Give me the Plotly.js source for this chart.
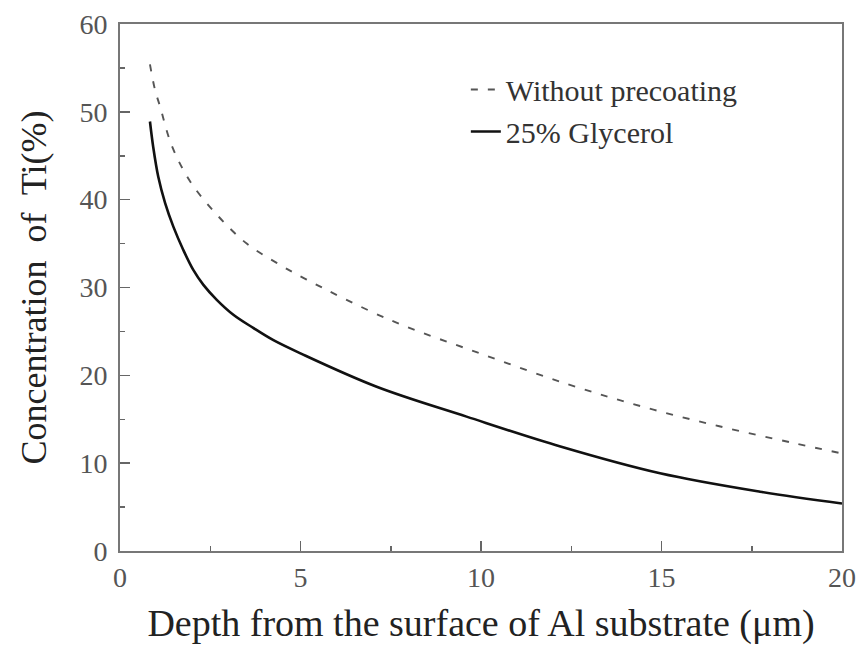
<!DOCTYPE html>
<html>
<head>
<meta charset="utf-8">
<script src="https://cdn.plot.ly/plotly-3.0.1.min.js"></script>
<style>html,body{margin:0;padding:0;background:#fff;}#chart{width:856px;height:650px;}</style>
</head>
<body>
<div id="chart"></div>
<script>
// Without precoating (dashed)
var depthNone = [0.83, 0.97, 1.11, 1.43, 1.94, 2.68, 3.51, 4.34, 5.17, 7.48, 9.97, 12.4, 14.5, 16.6, 18.65, 20];
var tiNone    = [55.4, 52.5, 50.6, 46.2, 42.1, 38.3, 35.0, 32.8, 30.9, 26.3, 22.5, 19.0, 16.4, 14.2, 12.3, 11.1];
// 25% Glycerol (solid)
var depthGly = [0.83, 0.92, 1.06, 1.25, 1.48, 1.75, 2.03, 2.31, 2.68, 3.14, 3.69, 4.25, 5.0, 7.11, 9.6, 12.2, 14.96, 17.73, 20];
var tiGly    = [48.9, 46.0, 42.6, 39.6, 36.9, 34.3, 32.0, 30.3, 28.6, 26.9, 25.4, 24.0, 22.5, 18.7, 15.3, 11.9, 8.85, 6.75, 5.4];

var seriesNames = ['Without precoating', '25% Glycerol'];
var xTickVals = [0, 5, 10, 15, 20];
var yTickVals = [0, 10, 20, 30, 40, 50, 60];
var xTitle = 'Depth from the surface of Al substrate (\u03bcm)';
var yTitle = 'Concentration  of  Ti(%)';

var fontFam = '"Liberation Serif", "Times New Roman", serif';

var traces = [
  {x: depthNone, y: tiNone, name: seriesNames[0], mode: 'lines',
   line: {color: '#555', width: 1.9, dash: '7px,10px', shape: 'spline', smoothing: 1}},
  {x: depthGly, y: tiGly, name: seriesNames[1], mode: 'lines',
   line: {color: '#111', width: 2.6, shape: 'spline', smoothing: 1}}
];

var layout = {
  width: 856, height: 650,
  margin: {l: 120, r: 14, t: 24, b: 99},
  paper_bgcolor: '#fff', plot_bgcolor: '#fff',
  font: {family: fontFam, color: '#333'},
  showlegend: true,
  legend: {x: 0.479, y: 0.925, xanchor: 'left', yanchor: 'top',
           bgcolor: 'rgba(0,0,0,0)', borderwidth: 0,
           font: {family: fontFam, size: 30, color: '#333'}},
  xaxis: {
    range: [0, 20], tickvals: xTickVals, ticktext: xTickVals.map(String),
    ticks: 'inside', ticklen: 10, tickwidth: 1.5, tickcolor: '#666',
    showline: true, linecolor: '#777', linewidth: 2, mirror: true,
    showgrid: false, zeroline: false,
    tickfont: {family: fontFam, size: 28, color: '#555'},
    minor: {tickvals: [2.5, 7.5, 12.5, 17.5], ticks: 'inside', ticklen: 5, tickwidth: 1.5, tickcolor: '#666', showgrid: false},
    title: {text: xTitle, font: {family: fontFam, size: 38, color: '#222'}, standoff: 18}
  },
  yaxis: {
    range: [0, 60], tickvals: yTickVals, ticktext: yTickVals.map(String),
    ticks: 'inside', ticklen: 10, tickwidth: 1.5, tickcolor: '#666',
    showline: true, linecolor: '#777', linewidth: 2, mirror: true,
    showgrid: false, zeroline: false, ticklabelstandoff: 5,
    tickfont: {family: fontFam, size: 28, color: '#555'},
    minor: {tickvals: [5, 15, 25, 35, 45, 55], ticks: 'inside', ticklen: 5, tickwidth: 1.5, tickcolor: '#666', showgrid: false},
    title: {text: yTitle, font: {family: fontFam, size: 36, color: '#222'}, standoff: 22}
  }
};

Plotly.newPlot('chart', traces, layout, {staticPlot: true, displayModeBar: false});
</script>
</body>
</html>
